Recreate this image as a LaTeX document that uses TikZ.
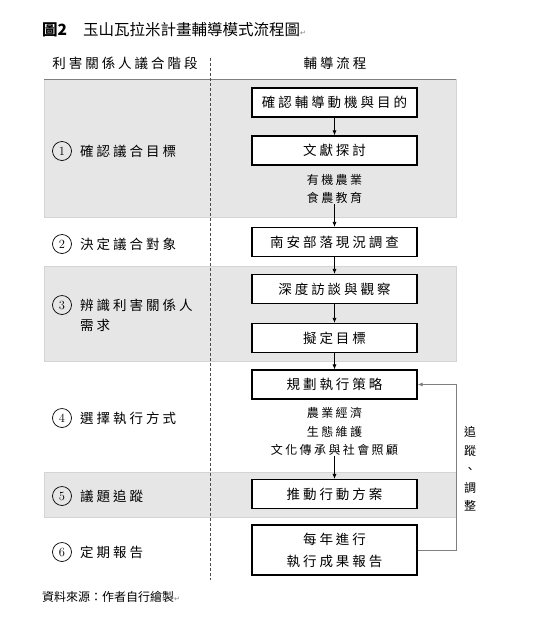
\documentclass[tikz,border=0pt]{standalone}
\usepackage{fontspec}
\newfontfamily\cjk{Noto Sans CJK TC}
\newfontfamily\cjksp[LetterSpace=22]{Noto Sans CJK TC}
\newfontfamily\cjkspn[LetterSpace=20]{Noto Sans CJK TC}
\newfontfamily\symf{DejaVu Sans}
\usetikzlibrary{arrows.meta}
\definecolor{bandgray}{HTML}{E6E6E6}
\definecolor{bandedge}{HTML}{D4D4D4}
\definecolor{linegray}{HTML}{7F7F7F}
\tikzset{
  px/.style={x=1pt,y=-1pt},
  stepbox/.style={draw=black,line width=1.1pt,fill=white,minimum width=165pt,minimum height=29pt,inner sep=0pt,font=\cjksp\fontsize{13.5}{22}\selectfont,align=center},
  note/.style={inner sep=0pt,font=\cjkspn\fontsize{12}{18.5}\selectfont,align=center},
  stage/.style={anchor=west,inner sep=0pt,font=\cjksp\fontsize{13.5}{20}\selectfont,align=left},
  num/.style={circle,draw=black,line width=0.7pt,minimum size=19pt,inner sep=0pt,font=\fontsize{12.5}{12.5}\selectfont},
  band/.style={fill=bandgray,draw=bandedge,line width=0.8pt},
  flow/.style={-{Latex[length=5pt,width=4pt]},line width=0.7pt,black},
  fb/.style={-{Latex[length=5pt,width=4pt]},line width=0.7pt,linegray},
  head/.style={inner sep=0pt,font=\cjksp\fontsize{13.5}{16}\selectfont}
}
\begin{document}
\begin{tikzpicture}[px]
\useasboundingbox (0,0) rectangle (552,625);
% bands
\fill[band] (44,79) rectangle (456,217);
\fill[band] (44,266) rectangle (456,361);
\fill[band] (44,472) rectangle (456,517);
\draw[band] (44,79) rectangle (456,217);
\draw[band] (44,266) rectangle (456,361);
\draw[band] (44,472) rectangle (456,517);
% title
\node[anchor=west,inner sep=0pt,font=\cjk\fontsize{15.5}{18}\selectfont] (title) at (42,30) {\textbf{圖2}\hspace{16pt}玉山瓦拉米計畫輔導模式流程圖{\symf\fontsize{7}{8}\selectfont\color{gray}↵}};
% header
\node[head] (h1) at (125,63) {利害關係人議合階段};
\node[head] (h2) at (335,63) {輔導流程};
\draw[linegray,line width=0.9pt] (44,79) -- (456,79);
\draw[black!70,line width=0.6pt,dash pattern=on 3pt off 2pt] (210,58) -- (210,580);
% stages
\node[num] (n1) at (62,151) {1};
\node[stage] (s1) at (80,151) {確認議合目標};
\node[num] (n2) at (62,244) {2};
\node[stage] (s2) at (80,244) {決定議合對象};
\node[num] (n3) at (62,305) {3};
\node[stage,anchor=north west] (s3) at (80,298.5) {辨識利害關係人\\需求};
\node[num] (n4) at (62,418) {4};
\node[stage] (s4) at (80,418) {選擇執行方式};
\node[num] (n5) at (62,496) {5};
\node[stage] (s5) at (80,496) {議題追蹤};
\node[num] (n6) at (62,552) {6};
\node[stage] (s6) at (80,552) {定期報告};
% flow boxes
\node[stepbox] (b1) at (334.5,102.5) {確認輔導動機與目的};
\node[stepbox] (b2) at (334.5,150.5) {文獻探討};
\node[note] (t2) at (334.5,189) {有機農業\\食農教育};
\node[stepbox] (b3) at (334.5,242) {南安部落現況調查};
\node[stepbox] (b4) at (334.5,289) {深度訪談與觀察};
\node[stepbox] (b5) at (334.5,338) {擬定目標};
\node[stepbox] (b6) at (334.5,384.5) {規劃執行策略};
\node[note] (t6) at (334.5,431.5) {農業經濟\\生態維護\\文化傳承與社會照顧};
\node[stepbox] (b7) at (334.5,494) {推動行動方案};
\node[stepbox,minimum height=50pt] (b8) at (334.5,550) {每年進行\\執行成果報告};
% arrows
\draw[flow] (b1) -- (b2);
\draw[flow] (t2) -- (b3);
\draw[flow] (b3) -- (b4);
\draw[flow] (b4) -- (b5);
\draw[flow] (b5) -- (b6);
\draw[flow] (t6) -- (b7);
% feedback
\coordinate (fbc) at (456,550);
\draw[fb] (b8.east) -- (fbc) |- (b6.east);
\node[inner sep=0pt,align=center,font=\cjk\fontsize{12}{18.5}\selectfont] (fbl) at (470,469) {追\\蹤\\、\\調\\整};
% source
\node[anchor=west,inner sep=0pt,font=\cjk\fontsize{12}{14}\selectfont] (src) at (42,597) {資料來源：作者自行繪製{\symf\fontsize{7}{8}\selectfont\color{gray}↵}};
\end{tikzpicture}
\end{document}
